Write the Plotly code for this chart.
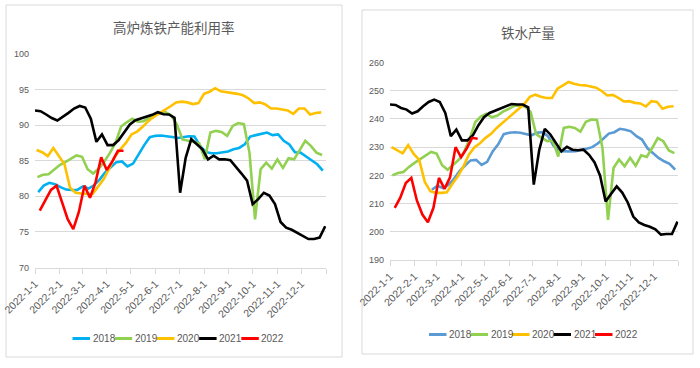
import pandas as pd
import plotly.graph_objects as go

# ---------------- data ----------------
years = ["2018", "2019", "2020", "2021", "2022"]
# first weekly (Friday) observation of each series, mapped onto the 2022 calendar
util_first = {"2018": "2022-01-05", "2019": "2022-01-04", "2020": "2022-01-03",
              "2021": "2022-01-01", "2022": "2022-01-07"}
iron_first = {"2018": "2022-02-23", "2019": "2022-01-04", "2020": "2022-01-03",
              "2021": "2022-01-01", "2022": "2022-01-07"}

# 高炉炼铁产能利用率 (%)
util_2018 = [80.6, 81.5, 81.9, 81.7, 81.3, 80.95, 80.9, 80.9, 81.4, 81.1, 81.55, 82.35, 83.35,
             84.1, 84.8, 84.9, 84.2, 84.6, 86.0, 87.2, 88.3, 88.5, 88.55, 88.5, 88.35, 88.2,
             88.35, 88.45, 88.4, 87.1, 86.24, 86.06, 86.06, 86.15, 86.3, 86.6, 86.8, 87.3, 88.4,
             88.6, 88.8, 88.97, 88.6, 88.7, 87.8, 87.3, 86.2, 86.15, 85.6, 85.0, 84.5, 83.6]
util_2019 = [82.7, 83.04, 83.1, 83.8, 84.4, 84.8, 85.3, 85.75, 85.56, 83.8, 83.2, 83.9, 84.9,
             86.1, 87.5, 89.8, 90.4, 90.9, 90.5, 90.56, 91.0, 91.5, 91.8, 91.8, 91.36, 90.1,
             88.0, 87.8, 87.56, 87.46, 85.2, 88.97, 89.2, 89.06, 88.5, 89.9, 90.3, 90.14, 86.15,
             76.76, 83.8, 84.74, 83.9, 85.2, 84.0, 85.35, 85.2, 86.6, 87.8, 87.1, 86.15, 85.8]
util_2020 = [86.5, 86.2, 85.65, 86.8, 85.65, 84.5, 81.2, 80.5, 80.4, 80.4, 80.3, 81.35, 82.4,
             83.9, 85.56, 86.6, 87.5, 88.7, 89.1, 89.77, 90.56, 91.17, 91.64, 92.2, 92.66, 93.2,
             93.3, 93.2, 92.96, 93.1, 94.4, 94.7, 95.2, 94.75, 94.65, 94.5, 94.4, 94.2, 93.75,
             93.1, 93.2, 92.9, 92.35, 92.35, 92.16, 92.07, 91.6, 92.35, 92.35, 91.5, 91.7, 91.8]
util_2021 = [92.06, 91.96, 91.5, 91.0, 90.65, 91.17, 91.73, 92.34, 92.7, 92.48, 90.9, 87.66,
             88.7, 87.2, 87.2, 87.9, 89.07, 90.1, 90.7, 90.93, 91.2, 91.45, 91.82, 91.54, 91.5,
             91.03, 80.5, 85.4, 88.03, 87.3, 86.6, 85.2, 85.7, 85.2, 85.2, 85.07, 84.2, 83.2,
             82.2, 78.9, 79.6, 80.5, 80.1, 78.9, 76.4, 75.6, 75.3, 74.9, 74.4, 74.0, 74.0, 74.2,
             75.8]
util_2022 = [78.0, 79.4, 80.9, 81.5, 79.3, 76.8, 75.4, 77.8, 81.5, 79.8, 82.0, 85.5, 83.7,
             84.9, 86.4, 86.4]

# 铁水产量 (万吨)
iron_2018 = [214.9, 216.3, 215.5, 216.6, 218.8,
             221.5, 223.5, 225.3, 225.5, 223.7, 224.8, 228.5, 231.0, 234.6, 235.1, 235.3, 235.1,
             234.7, 234.2, 235.1, 235.3, 233.9, 230.5, 228.6, 228.5, 228.5, 228.6, 228.9, 229.4,
             230.0, 231.3, 233.0, 234.8, 235.3, 236.5, 236.2, 235.6, 233.9, 232.7, 229.6, 227.9,
             226.2, 225.0, 224.1, 222.0]
iron_2019 = [220.0, 220.8, 221.2, 223.0, 224.4, 225.6, 226.8, 228.3, 227.7, 223.6, 222.0, 223.8,
             225.5, 228.5, 233.0, 238.9, 240.8, 241.8, 240.6, 241.2, 242.6, 243.5, 244.6, 244.8,
             244.4, 242.5, 234.6, 233.3, 232.1, 232.3, 226.7, 236.8, 237.2, 236.8, 235.5, 239.0,
             239.8, 239.6, 229.7, 204.2, 222.6, 225.6, 223.2, 226.2, 223.4, 227.1, 226.5, 229.7,
             233.2, 232.1, 228.8, 227.9]
iron_2020 = [230.0, 228.9, 227.8, 230.7, 227.6, 225.5, 217.7, 214.4, 213.8, 213.8, 214.0, 217.0,
             219.7, 223.2, 227.4, 230.0, 231.4, 233.3, 234.7, 236.8, 238.5, 240.4, 242.1, 243.9,
             245.3, 247.8, 248.6, 247.9, 247.4, 247.4, 250.7, 251.9, 253.1, 252.5, 252.0, 251.9,
             251.4, 251.1, 249.9, 248.3, 248.5, 247.5, 246.2, 246.3, 245.7, 245.5, 244.4, 246.3,
             246.0, 243.6, 244.3, 244.5]
iron_2021 = [245.1, 244.96, 243.9, 243.3, 241.9, 242.7, 244.5, 246.0, 246.85, 246.0, 242.1, 233.9,
             236.2, 232.4, 232.4, 234.2, 237.8, 240.6, 242.1, 242.95, 243.7, 244.5, 245.3, 245.1,
             245.1, 244.1, 216.7, 229.1, 236.5, 234.5, 231.3, 228.5, 230.1, 229.1, 228.9, 229.1,
             227.3, 224.6, 219.9, 210.7, 213.5, 216.1, 213.9, 210.4, 205.4, 203.3, 202.4, 201.8,
             200.9, 199.0, 199.2, 199.2, 203.6]
iron_2022 = [208.5, 212.1, 217.3, 219.1, 211.1, 206.1, 203.4, 208.5, 219.1, 215.2, 219.3, 230.0,
             226.4, 229.5, 233.3, 233.0]

util = {"2018": util_2018, "2019": util_2019, "2020": util_2020, "2021": util_2021, "2022": util_2022}
iron = {"2018": iron_2018, "2019": iron_2019, "2020": iron_2020, "2021": iron_2021, "2022": iron_2022}

month_ticks = [f"2022-{m}-1" for m in range(1, 13)]
left_title = "高炉炼铁产能利用率"
right_title = "铁水产量"

# ---------------- styling ----------------
colors_left = {"2018": "#00B0F0", "2019": "#92D050", "2020": "#FFC000", "2021": "#000000", "2022": "#FF0000"}
colors_right = {"2018": "#5B9BD5", "2019": "#92D050", "2020": "#FFC000", "2021": "#000000", "2022": "#FF0000"}
GRID = "#D9D9D9"
TXT = "#595959"
TICKFONT = "Liberation Sans Narrow, Liberation Sans, Arial, sans-serif"
CJK = "Noto Sans CJK SC, sans-serif"
W, H = 700, 368


def px(x):
    return x / W


def py(y):
    return (H - y) / H


def dates_from(start, n):
    return pd.date_range(start, periods=n, freq="7D")


fig = go.Figure()
for y in years:
    fig.add_trace(go.Scatter(x=dates_from(util_first[y], len(util[y])), y=util[y], name=y,
                             mode="lines", line=dict(color=colors_left[y], width=2.6),
                             xaxis="x", yaxis="y"))
for y in years:
    fig.add_trace(go.Scatter(x=dates_from(iron_first[y], len(iron[y])), y=iron[y], name=y,
                             mode="lines", line=dict(color=colors_right[y], width=2.6),
                             xaxis="x2", yaxis="y2"))

tickvals = [pd.Timestamp(f"2022-{m:02d}-01") for m in range(1, 13)] + [pd.Timestamp("2023-01-01")]
ticktext = month_ticks + [""]

xcommon = dict(type="date", range=["2022-01-01", "2023-01-01"], tickmode="array",
               tickvals=tickvals, ticktext=ticktext, tickangle=-45, showgrid=False,
               showline=True, linecolor=GRID, linewidth=1, ticks="outside", ticklen=5,
               tickcolor=GRID, tickfont=dict(family=TICKFONT, size=10.5, color=TXT),
               zeroline=False, fixedrange=True, automargin=False)
ycommon = dict(showgrid=True, gridcolor=GRID, gridwidth=1.3, zeroline=False, showline=False,
               ticks="", tickfont=dict(family=TICKFONT, size=9, color=TXT), fixedrange=True,
               automargin=False, ticklabelstandoff=5)

# ---- chart frames, titles and Excel-like compact legends ----
shapes = [
    dict(type="rect", xref="paper", yref="paper", x0=px(6), x1=px(342),
         y0=py(357), y1=py(5), line=dict(color=GRID, width=1),
         fillcolor="rgba(0,0,0,0)", layer="below"),
    dict(type="rect", xref="paper", yref="paper", x0=px(362), x1=px(693),
         y0=py(354), y1=py(10), line=dict(color=GRID, width=1),
         fillcolor="rgba(0,0,0,0)", layer="below"),
]
annotations = [
    dict(text=left_title, xref="paper", yref="paper", x=px(174), y=py(27),
         xanchor="center", yanchor="middle", showarrow=False,
         font=dict(family=CJK, size=13.5, color=TXT)),
    dict(text=right_title, xref="paper", yref="paper", x=px(527.5), y=py(32.5),
         xanchor="center", yanchor="middle", showarrow=False,
         font=dict(family=CJK, size=13.5, color=TXT)),
]
legend_specs = [(72.5, 42.2, 338.5, colors_left), (429, 41.5, 334.5, colors_right)]
for x_start, step, y_leg, cmap in legend_specs:
    for i, yname in enumerate(years):
        x0 = x_start + i * step
        shapes.append(dict(type="line", xref="paper", yref="paper", x0=px(x0), x1=px(x0 + 17.5),
                           y0=py(y_leg), y1=py(y_leg), line=dict(color=cmap[yname], width=3)))
        annotations.append(dict(text=yname, xref="paper", yref="paper", x=px(x0 + 18), y=py(y_leg),
                                xanchor="left", yanchor="middle", showarrow=False,
                                font=dict(family=TICKFONT, size=10, color=TXT)))

fig.update_layout(
    width=W, height=H, autosize=False,
    margin=dict(l=0, r=0, t=0, b=0, autoexpand=False),
    paper_bgcolor="white", plot_bgcolor="white",
    showlegend=False,
    xaxis=dict(domain=[px(35), px(326)], anchor="y", **xcommon),
    yaxis=dict(domain=[py(267.5), py(54)], anchor="x",
               range=[70, 100], dtick=5, tick0=70, **ycommon),
    xaxis2=dict(domain=[px(390), px(678.3)], anchor="y2", **xcommon),
    yaxis2=dict(domain=[py(260), py(62.5)], anchor="x2",
                range=[190, 260], dtick=10, tick0=190, **ycommon),
    shapes=shapes,
    annotations=annotations,
)

fig.write_html("out.html",
               config={"displayModeBar": False},
               post_script="document.body.style.margin='0';document.body.style.overflow='hidden';")
